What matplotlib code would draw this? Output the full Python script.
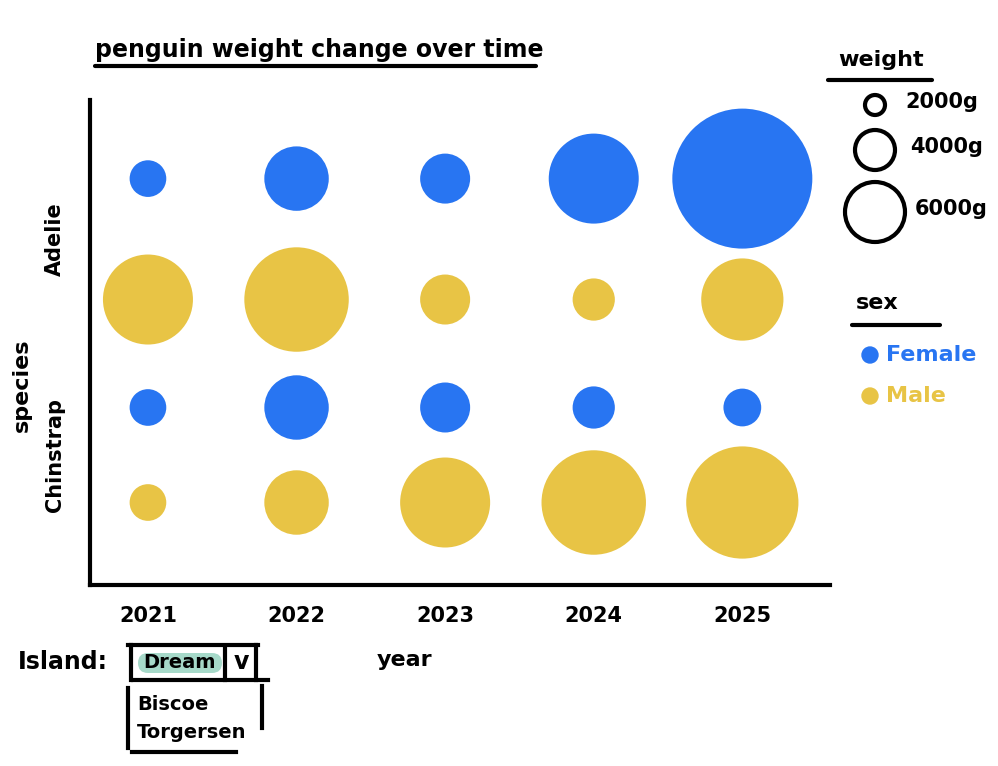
import numpy as np
import matplotlib.pyplot as plt
from matplotlib.patches import Circle, FancyBboxPatch

years = [2021, 2022, 2023, 2024, 2025]
species = ["Adelie", "Chinstrap"]
adelie_female = [3300, 5800, 4500, 8100, 12600]
adelie_male = [8100, 9400, 4500, 3800, 7400]
chinstrap_female = [3300, 5800, 4500, 3800, 3400]
chinstrap_male = [3300, 5800, 8100, 9400, 10100]
legend_weights = [2000, 4000, 6000]
legend_labels = ["2000g", "4000g", "6000g"]
islands = ["Dream", "Biscoe", "Torgersen"]

BLUE = "#2875F2"
YELLOW = "#E8C445"
TEAL = "#A6D9C9"
FONT = "DejaVu Sans"
W, H = 998, 766
PX_PER_G = 1 / 180.0  # bubble radius in pixels per gram


def size(w):
    # scatter size in pt^2 from radius in px (dpi 100)
    r = np.array(w) * PX_PER_G
    return (2 * r * 72 / 100) ** 2


fig = plt.figure(figsize=(W / 100, H / 100), dpi=100)

left, right, top, bottom = 90, 830, 100, 585
ax = fig.add_axes([left / W, 1 - bottom / H, (right - left) / W, (bottom - top) / H])

ypos = {"Adelie": 1, "Chinstrap": 0}
rows = [
    (adelie_female, ypos["Adelie"] + 0.28, BLUE),
    (adelie_male, ypos["Adelie"] - 0.28, YELLOW),
    (chinstrap_female, ypos["Chinstrap"] + 0.22, BLUE),
    (chinstrap_male, ypos["Chinstrap"] - 0.22, YELLOW),
]
for vals, y, c in rows:
    ax.scatter(years, [y] * len(years), s=size(vals), color=c, edgecolors="none", zorder=3)

ax.set_xlim(2020.61, 2025.59)
ax.set_ylim(-0.602, 1.644)
ax.set_xticks(years)
ax.set_xticklabels([str(y) for y in years], fontsize=15, fontweight="bold", family=FONT)
ax.set_yticks([ypos[s] for s in species])
ax.set_yticklabels(species, rotation=90, va="center", fontsize=15, fontweight="bold", family=FONT)
ax.tick_params(axis="x", length=0, pad=15)
ax.tick_params(axis="y", length=0, pad=18)
for s in ["top", "right"]:
    ax.spines[s].set_visible(False)
for s in ["left", "bottom"]:
    ax.spines[s].set_linewidth(3)
ax.set_xlabel("year", fontsize=16, fontweight="bold", family=FONT, va="center")
ax.xaxis.set_label_coords((405 - left) / (right - left), -(660 - bottom) / (bottom - top))
ax.set_ylabel("species", fontsize=16, fontweight="bold", family=FONT, va="center")
ax.yaxis.set_label_coords(-(90 - 22) / (right - left), (bottom - 385) / (bottom - top))

# overlay in pixel coordinates for title, legends, dropdown
ov = fig.add_axes([0, 0, 1, 1], zorder=-1)
ov.set_xlim(0, W)
ov.set_ylim(H, 0)
ov.axis("off")
txt = dict(fontweight="bold", family=FONT, color="black")

ov.text(95, 50, "penguin weight change over time", fontsize=17, va="center", ha="left", **txt)
ov.plot([95, 536], [66, 66], color="black", lw=3, solid_capstyle="round")

# weight legend
ov.text(838, 60, "weight", fontsize=16, va="center", **txt)
ov.plot([828, 932], [80, 80], color="black", lw=3, solid_capstyle="round")
for w, lab, cy, tx in zip(legend_weights, legend_labels, [105, 150, 212], [905, 910, 915]):
    ov.add_patch(Circle((875, cy), w * PX_PER_G * 0.9, fill=False, lw=3, ec="black"))
    ov.text(tx, cy - 3, lab, fontsize=15, va="center", **txt)

# sex legend
ov.text(856, 303, "sex", fontsize=16, va="center", **txt)
ov.plot([852, 940], [325, 325], color="black", lw=3, solid_capstyle="round")
for lab, c, cy in [("Female", BLUE, 355), ("Male", YELLOW, 396)]:
    ov.add_patch(Circle((870, cy), 8, color=c))
    ov.text(886, cy, lab, fontsize=16, va="center", fontweight="bold", family=FONT, color=c)

# island dropdown
ov.text(18, 662, "Island:", fontsize=17, va="center", **txt)
ov.add_patch(FancyBboxPatch((138, 653), 84, 20, boxstyle="round,pad=0,rounding_size=10",
                            color=TEAL, ec="none"))
ov.text(180, 663, islands[0], fontsize=14, va="center", ha="center", **txt)
ov.text(241, 662, "v", fontsize=17, va="center", ha="center", **txt)
ov.plot([128, 258], [645, 645], color="black", lw=3)
ov.plot([131, 131], [645, 680], color="black", lw=3)
ov.plot([225, 225], [647, 680], color="black", lw=3)
ov.plot([256, 256], [645, 680], color="black", lw=3)
ov.plot([133, 268], [680, 680], color="black", lw=3)
ov.plot([128, 128], [688, 748], color="black", lw=3)
ov.plot([262, 262], [686, 728], color="black", lw=3)
ov.plot([132, 236], [752, 752], color="black", lw=3)
ov.text(137, 704, islands[1], fontsize=14, va="center", **txt)
ov.text(137, 733, islands[2], fontsize=14, va="center", **txt)

fig.savefig("out.png", dpi=100)
